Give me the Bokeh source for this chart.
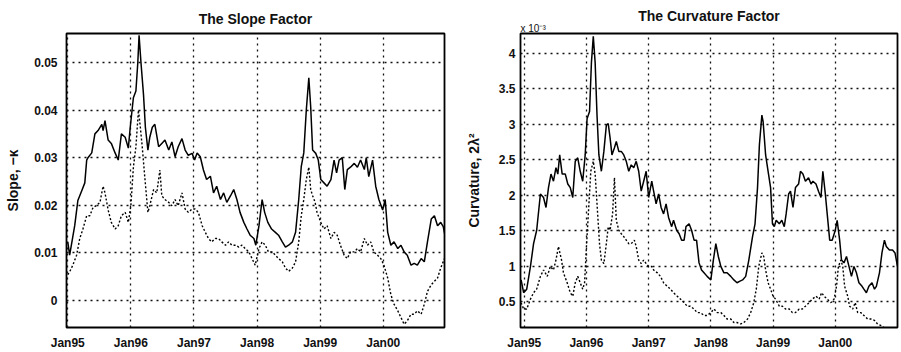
from bokeh.plotting import figure
from bokeh.layouts import row
from bokeh.models import FixedTicker, Range1d, Title, NumeralTickFormatter
from bokeh.embed import file_html
from bokeh.resources import INLINE

# ---------------- data (years since Jan 1995, values) ----------------
slope_solid_t = [0.00, 0.03, 0.11, 0.16, 0.22, 0.27, 0.30, 0.32, 0.38, 0.43, 0.48, 0.54, 0.56, 0.59, 0.64, 0.69,
                 0.75, 0.80, 0.85, 0.91, 0.96, 0.99, 1.04, 1.08, 1.11, 1.13, 1.16, 1.20, 1.23, 1.27, 1.30, 1.34,
                 1.38, 1.44, 1.49, 1.54, 1.60, 1.65, 1.70, 1.75, 1.81, 1.86, 1.91, 1.97, 2.01, 2.05, 2.10, 2.15,
                 2.20, 2.26, 2.31, 2.36, 2.42, 2.47, 2.52, 2.58, 2.63, 2.68, 2.73, 2.79, 2.84, 2.89, 2.95, 2.98,
                 3.03, 3.08, 3.12, 3.17, 3.23, 3.29, 3.34, 3.40, 3.45, 3.50, 3.56, 3.61, 3.66, 3.70, 3.74, 3.78,
                 3.82, 3.85, 3.88, 3.93, 3.97, 4.01, 4.06, 4.11, 4.17, 4.22, 4.26, 4.30, 4.35, 4.39, 4.43, 4.48,
                 4.54, 4.59, 4.64, 4.70, 4.73, 4.77, 4.83, 4.88, 4.93, 4.99, 5.03, 5.07, 5.12, 5.17, 5.23, 5.28,
                 5.33, 5.38, 5.44, 5.49, 5.54, 5.60, 5.65, 5.70, 5.76, 5.81, 5.86, 5.91, 5.95, 5.98]
slope_solid = [0.0123, 0.0095, 0.0157, 0.0210, 0.0230, 0.0247, 0.0295, 0.0300, 0.0310, 0.0350, 0.0357, 0.0370,
               0.0357, 0.0378, 0.0337, 0.0330, 0.0310, 0.0295, 0.0350, 0.0343, 0.0320, 0.0364, 0.0426, 0.0440,
               0.0500, 0.0557, 0.0500, 0.0433, 0.0364, 0.0316, 0.0343, 0.0364, 0.0370, 0.0323, 0.0330, 0.0337,
               0.0316, 0.0333, 0.0302, 0.0323, 0.0340, 0.0316, 0.0305, 0.0309, 0.0295, 0.0310, 0.0302, 0.0274,
               0.0254, 0.0261, 0.0226, 0.0240, 0.0212, 0.0226, 0.0206, 0.0220, 0.0233, 0.0212, 0.0185, 0.0164,
               0.0150, 0.0137, 0.0130, 0.0116, 0.0157, 0.0212, 0.0185, 0.0164, 0.0150, 0.0143, 0.0137, 0.0123,
               0.0112, 0.0116, 0.0123, 0.0143, 0.0212, 0.0281, 0.0310, 0.0400, 0.0468, 0.0406, 0.0316, 0.0309,
               0.0295, 0.0254, 0.0247, 0.0240, 0.0254, 0.0295, 0.0268, 0.0295, 0.0300, 0.0233, 0.0275, 0.0280,
               0.0288, 0.0280, 0.0295, 0.0275, 0.0300, 0.0260, 0.0295, 0.0240, 0.0212, 0.0190, 0.0212, 0.0143,
               0.0116, 0.0123, 0.0109, 0.0116, 0.0102, 0.0095, 0.0074, 0.0078, 0.0074, 0.0088, 0.0081, 0.0123,
               0.0171, 0.0178, 0.0157, 0.0164, 0.0155, 0.0135]

slope_dot_t = [0.00, 0.03, 0.08, 0.14, 0.19, 0.24, 0.30, 0.35, 0.40, 0.46, 0.51, 0.56, 0.59, 0.64, 0.69, 0.75,
               0.80, 0.85, 0.91, 0.96, 1.00, 1.04, 1.08, 1.12, 1.15, 1.18, 1.22, 1.27, 1.30, 1.36, 1.41, 1.46,
               1.49, 1.54, 1.60, 1.65, 1.70, 1.75, 1.81, 1.86, 1.91, 1.97, 2.02, 2.07, 2.13, 2.18, 2.23, 2.28,
               2.34, 2.39, 2.44, 2.50, 2.55, 2.60, 2.66, 2.71, 2.76, 2.81, 2.87, 2.92, 2.97, 3.03, 3.08, 3.13,
               3.18, 3.24, 3.29, 3.34, 3.40, 3.45, 3.50, 3.56, 3.61, 3.66, 3.70, 3.74, 3.78, 3.82, 3.85, 3.88,
               3.92, 3.95, 4.01, 4.06, 4.11, 4.17, 4.22, 4.27, 4.32, 4.38, 4.43, 4.48, 4.54, 4.59, 4.64, 4.70,
               4.75, 4.80, 4.85, 4.91, 4.96, 5.01, 5.07, 5.12, 5.17, 5.23, 5.28, 5.33, 5.38, 5.44, 5.49, 5.54,
               5.60, 5.65, 5.70, 5.76, 5.81, 5.86, 5.91, 5.97]
slope_dot = [0.0054, 0.0060, 0.0074, 0.0095, 0.0130, 0.0150, 0.0178, 0.0178, 0.0195, 0.0200, 0.0206, 0.0240,
             0.0226, 0.0190, 0.0164, 0.0150, 0.0157, 0.0178, 0.0185, 0.0164, 0.0199, 0.0280, 0.0323, 0.0400,
             0.0364, 0.0323, 0.0260, 0.0185, 0.0199, 0.0233, 0.0226, 0.0274, 0.0220, 0.0212, 0.0206, 0.0199,
             0.0212, 0.0199, 0.0226, 0.0192, 0.0185, 0.0192, 0.0192, 0.0185, 0.0157, 0.0143, 0.0130, 0.0123,
             0.0130, 0.0130, 0.0123, 0.0116, 0.0123, 0.0116, 0.0116, 0.0112, 0.0116, 0.0109, 0.0102, 0.0088,
             0.0074, 0.0109, 0.0123, 0.0116, 0.0102, 0.0102, 0.0095, 0.0088, 0.0081, 0.0068, 0.0061, 0.0068,
             0.0081, 0.0123, 0.0178, 0.0212, 0.0254, 0.0280, 0.0233, 0.0220, 0.0206, 0.0185, 0.0164, 0.0150,
             0.0157, 0.0130, 0.0143, 0.0137, 0.0116, 0.0095, 0.0088, 0.0102, 0.0102, 0.0109, 0.0102, 0.0130,
             0.0116, 0.0123, 0.0102, 0.0095, 0.0088, 0.0074, 0.0047, 0.0012, -0.0008, -0.0022, -0.0036, -0.0050,
             -0.0043, -0.0029, -0.0029, -0.0022, -0.0029, -0.0008, 0.0019, 0.0033, 0.0040, 0.0047, 0.0068, 0.0088]

curv_solid_t = [-0.05, -0.01, 0.04, 0.10, 0.15, 0.20, 0.26, 0.31, 0.35, 0.39, 0.43, 0.47, 0.51, 0.54, 0.57, 0.61,
                0.66, 0.70, 0.74, 0.78, 0.82, 0.86, 0.90, 0.94, 0.98, 1.01, 1.05, 1.08, 1.11, 1.14, 1.17, 1.20,
                1.24, 1.28, 1.32, 1.35, 1.38, 1.41, 1.45, 1.48, 1.52, 1.56, 1.60, 1.64, 1.68, 1.72, 1.76, 1.80,
                1.84, 1.88, 1.92, 1.96, 2.00, 2.05, 2.08, 2.12, 2.16, 2.20, 2.24, 2.28, 2.32, 2.37, 2.40, 2.45,
                2.49, 2.53, 2.57, 2.60, 2.65, 2.69, 2.73, 2.77, 2.81, 2.85, 2.89, 2.94, 3.00, 3.04, 3.08, 3.12,
                3.16, 3.21, 3.26, 3.32, 3.37, 3.42, 3.46, 3.51, 3.56, 3.61, 3.67, 3.71, 3.75, 3.78, 3.82, 3.84,
                3.88, 3.92, 3.96, 3.99, 4.02, 4.05, 4.10, 4.14, 4.18, 4.21, 4.25, 4.28, 4.32, 4.36, 4.41, 4.44,
                4.48, 4.52, 4.57, 4.61, 4.64, 4.69, 4.73, 4.77, 4.80, 4.84, 4.87, 4.91, 4.95, 5.00, 5.03, 5.07,
                5.10, 5.14, 5.18, 5.22, 5.26, 5.30, 5.34, 5.38, 5.43, 5.46, 5.50, 5.54, 5.59, 5.63, 5.66, 5.71,
                5.75, 5.79, 5.82, 5.87, 5.92, 5.96, 6.00]
curv_solid = [0.81, 0.63, 0.68, 1.00, 1.32, 1.51, 2.02, 1.97, 1.83, 2.11, 2.30, 2.20, 2.39, 2.30, 2.57, 2.30,
              2.30, 2.16, 2.11, 1.97, 2.48, 2.53, 2.34, 2.20, 2.57, 3.08, 3.18, 3.87, 4.24, 3.87, 3.13, 2.57,
              2.34, 2.62, 2.99, 3.01, 2.81, 2.57, 2.67, 2.76, 2.62, 2.62, 2.57, 2.48, 2.34, 2.43, 2.39, 2.48,
              2.34, 2.06, 2.20, 2.34, 1.97, 2.20, 2.06, 1.88, 2.02, 1.83, 1.74, 1.88, 1.69, 1.56, 1.65, 1.51,
              1.46, 1.37, 1.37, 1.56, 1.60, 1.51, 1.37, 1.37, 1.05, 0.95, 0.91, 0.86, 0.81, 1.09, 1.32, 1.14,
              1.00, 0.91, 0.91, 0.86, 0.81, 0.77, 0.79, 0.81, 0.86, 1.09, 1.42, 1.60, 2.11, 2.71, 3.13, 3.04,
              2.57, 2.34, 2.11, 1.60, 1.56, 1.65, 1.60, 1.65, 1.56, 1.74, 2.02, 2.06, 1.83, 2.11, 2.16, 2.34,
              2.30, 2.20, 2.25, 2.16, 2.20, 2.16, 2.06, 1.97, 2.34, 2.02, 1.74, 1.37, 1.37, 1.51, 1.65, 1.37,
              1.09, 1.05, 1.14, 1.00, 0.86, 1.00, 0.91, 0.77, 0.72, 0.68, 0.63, 0.72, 0.77, 0.68, 0.72, 0.91,
              1.19, 1.37, 1.28, 1.23, 1.23, 1.19, 1.00]

curv_dot_t = [-0.05, -0.01, 0.04, 0.10, 0.15, 0.20, 0.26, 0.31, 0.37, 0.42, 0.47, 0.51, 0.55, 0.60, 0.63, 0.69,
              0.74, 0.78, 0.82, 0.86, 0.90, 0.94, 0.97, 1.00, 1.04, 1.07, 1.11, 1.14, 1.18, 1.21, 1.24, 1.28,
              1.32, 1.35, 1.38, 1.42, 1.45, 1.48, 1.52, 1.56, 1.60, 1.64, 1.68, 1.72, 1.77, 1.80, 1.84, 1.88,
              1.92, 1.96, 2.00, 2.05, 2.08, 2.14, 2.19, 2.24, 2.30, 2.35, 2.40, 2.46, 2.51, 2.57, 2.62, 2.67,
              2.73, 2.78, 2.83, 2.89, 2.94, 3.00, 3.05, 3.10, 3.16, 3.21, 3.26, 3.32, 3.37, 3.42, 3.48, 3.53,
              3.59, 3.64, 3.69, 3.73, 3.77, 3.82, 3.85, 3.88, 3.92, 3.96, 4.00, 4.04, 4.10, 4.15, 4.20, 4.26,
              4.31, 4.36, 4.42, 4.47, 4.52, 4.58, 4.63, 4.69, 4.74, 4.78, 4.82, 4.87, 4.93, 4.98, 5.02, 5.05,
              5.09, 5.12, 5.15, 5.20, 5.23, 5.28, 5.32, 5.36, 5.41, 5.46, 5.52, 5.57, 5.63, 5.68, 5.73, 5.81,
              6.00]
curv_dot = [0.49, 0.40, 0.40, 0.54, 0.63, 0.68, 0.86, 0.95, 0.86, 1.00, 0.95, 1.09, 1.28, 1.09, 0.91, 0.77,
            0.63, 0.58, 0.77, 0.86, 0.77, 0.68, 0.77, 1.28, 1.88, 2.34, 2.48, 2.30, 1.74, 1.32, 1.09, 1.04,
            1.32, 1.56, 1.51, 1.74, 2.25, 1.65, 1.51, 1.46, 1.42, 1.37, 1.32, 1.32, 1.37, 1.28, 1.09, 1.04,
            1.09, 1.04, 1.00, 1.00, 0.95, 0.91, 0.86, 0.77, 0.72, 0.68, 0.63, 0.58, 0.54, 0.49, 0.44, 0.44,
            0.40, 0.35, 0.35, 0.31, 0.31, 0.35, 0.40, 0.35, 0.35, 0.31, 0.26, 0.26, 0.21, 0.21, 0.19, 0.21,
            0.26, 0.35, 0.49, 0.68, 1.00, 1.19, 1.14, 0.95, 0.77, 0.68, 0.58, 0.54, 0.44, 0.44, 0.40, 0.40,
            0.35, 0.35, 0.40, 0.40, 0.44, 0.49, 0.54, 0.58, 0.54, 0.63, 0.58, 0.54, 0.49, 0.54, 0.72, 1.00,
            1.09, 1.00, 0.72, 0.58, 0.44, 0.40, 0.49, 0.35, 0.35, 0.31, 0.26, 0.26, 0.24, 0.19, 0.17, 0.12,
            0.05]

x_tick_years = [1995, 1996, 1997, 1998, 1999, 2000]
x_tick_labels = ["Jan95", "Jan96", "Jan97", "Jan98", "Jan99", "Jan00"]
slope_ticks = [0, 0.01, 0.02, 0.03, 0.04, 0.05]
curv_ticks = [0.5, 1, 1.5, 2, 2.5, 3, 3.5, 4]
curv_multiplier = "x 10\u207b\u00b3"

FONT = "Liberation Sans"


def style(p, yticks, fmt, ylabel, ylabel_standoff, ytick_standoff, title_standoff):
    p.xaxis.ticker = FixedTicker(ticks=x_tick_years)
    p.xaxis.major_label_overrides = {y: l for y, l in zip(x_tick_years, x_tick_labels)}
    p.yaxis.ticker = FixedTicker(ticks=yticks)
    p.yaxis.formatter = NumeralTickFormatter(format=fmt)
    for ax in (p.xaxis, p.yaxis):
        ax.axis_line_color = None
        ax.major_tick_line_color = None
        ax.minor_tick_line_color = None
        ax.major_tick_out = 0
        ax.major_tick_in = 0
        ax.major_label_text_font = FONT
        ax.major_label_text_font_size = "12px"
        ax.major_label_text_font_style = "bold"
        ax.major_label_text_color = "#111111"
    p.xaxis.major_label_standoff = 8
    p.yaxis.major_label_standoff = ytick_standoff
    p.yaxis.axis_label = ylabel
    p.yaxis.axis_label_text_font = FONT
    p.yaxis.axis_label_text_font_size = "14px"
    p.yaxis.axis_label_text_font_style = "bold"
    p.yaxis.axis_label_text_color = "#111111"
    p.yaxis.axis_label_standoff = ylabel_standoff
    for g in (p.xgrid, p.ygrid):
        g.grid_line_color = "#111111"
        g.grid_line_dash = "2 4"
        g.grid_line_width = 1.3
        g.grid_line_alpha = 1.0
    p.outline_line_color = "black"
    p.outline_line_width = 1.8
    p.title.align = "center"
    p.title.text_font = FONT
    p.title.text_font_size = "14px"
    p.title.text_font_style = "bold"
    p.title.text_color = "#111111"
    p.title.standoff = title_standoff
    p.background_fill_color = "white"
    p.border_fill_color = "white"


# ---------------- left panel ----------------
p1 = figure(width=458, height=352, output_backend="svg", toolbar_location=None,
            title="The Slope Factor",
            x_range=Range1d(1994.98, 2000.97), y_range=Range1d(-0.0057, 0.0561),
            min_border_left=66, min_border_right=14, min_border_top=33, min_border_bottom=21)
style(p1, slope_ticks, "0.[00]", "Slope, \u2212\u03ba", 10, 9, 14)
p1.line([1995 + t for t in slope_dot_t], slope_dot, line_color="black", line_width=1.4, line_dash="2 2")
p1.line([1995 + t for t in slope_solid_t], slope_solid, line_color="black", line_width=1.5)

# ---------------- right panel ----------------
p2 = figure(width=443, height=352, output_backend="svg", toolbar_location=None,
            title="The Curvature Factor",
            x_range=Range1d(1994.94, 2001.0), y_range=Range1d(0.14, 4.28),
            min_border_left=62, min_border_right=4, min_border_top=32, min_border_bottom=23)
style(p2, curv_ticks, "0.[0]", "Curvature, 2\u03bb\u00b2", 14, 5, -6)
p2.add_layout(Title(text=curv_multiplier, align="left", text_font=FONT, text_font_size="10px",
                    text_font_style="normal", text_color="#111111", standoff=0), "above")
p2.line([1995 + t for t in curv_dot_t], curv_dot, line_color="black", line_width=1.4, line_dash="2 2")
p2.line([1995 + t for t in curv_solid_t], curv_solid, line_color="black", line_width=1.5)

layout = row(p1, p2)
open("out.html", "w").write(file_html(layout, INLINE))
